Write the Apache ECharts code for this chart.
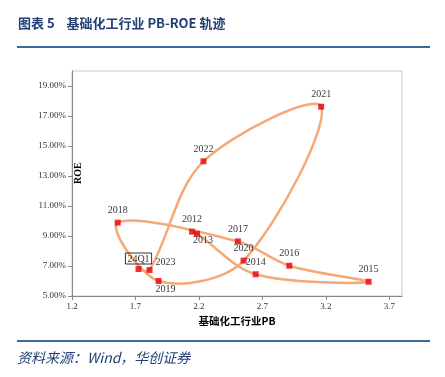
<!DOCTYPE html>
<html>
<head>
<meta charset="utf-8">
<script src="https://cdn.jsdelivr.net/npm/echarts@6/dist/echarts.min.js"></script>
<style>
  html, body { margin: 0; padding: 0; background: #fff; }
  #main { width: 445px; height: 377px; }
</style>
</head>
<body>
<div id="main"></div>
<script>
// 数据：年份、PB、ROE(%)
var years = ['2012', '2013', '2014', '2015', '2016', '2017', '2018', '2019', '2020', '2021', '2022', '2023', '24Q1'];
var pb = [2.146, 2.185, 2.647, 3.537, 2.912, 2.507, 1.56, 1.882, 2.552, 3.163, 2.236, 1.811, 1.724];
var roe = [9.29, 9.15, 6.45, 5.95, 7.02, 8.64, 9.89, 6.0, 7.36, 17.62, 13.98, 6.73, 6.80];
var xTicks = [1.2, 1.7, 2.2, 2.7, 3.2, 3.7];
var yTicks = [5, 7, 9, 11, 13, 15, 17, 19];

var serif = '"Liberation Serif", "Times New Roman", serif';
var SMOOTH = 1 / 3; // 类似Excel平滑线

// 标签位置
var labelPos = {
    '2013': { position: 'bottom', offset: [6, -5] },
    '2019': { position: 'bottom', offset: [7, -4] },
    '2023': { position: 'top', offset: [16, 4] },
    '24Q1': {
        position: 'top', offset: [0, 2],
        borderColor: '#000', borderWidth: 1, padding: [1, 2, 0, 2]
    }
};

var points = [];
var pairs = [];
for (var i = 0; i < years.length; i++) {
    var item = { value: [pb[i], roe[i]], name: years[i] };
    if (labelPos[years[i]]) {
        item.label = labelPos[years[i]];
    }
    points.push(item);
    pairs.push([pb[i], roe[i]]);
}

function dist(a, b) {
    return Math.sqrt((a[0] - b[0]) * (a[0] - b[0]) + (a[1] - b[1]) * (a[1] - b[1]));
}

// 控制点：切线方向为前后点连线，长度按相邻线段比例分配
function ctrl(prev, cur, next, toNext) {
    var d0 = dist(prev, cur), d1 = dist(cur, next);
    if (d0 + d1 === 0) return [cur[0], cur[1]];
    var r = toNext ? d1 / (d0 + d1) : -d0 / (d0 + d1);
    return [cur[0] + (next[0] - prev[0]) * SMOOTH * r, cur[1] + (next[1] - prev[1]) * SMOOTH * r];
}

function renderCurve(params, api) {
    var i = params.dataIndex;
    var n = pairs.length;
    if (i >= n - 1) return null;
    var p0 = api.coord(pairs[Math.max(i - 1, 0)]);
    var p1 = api.coord(pairs[i]);
    var p2 = api.coord(pairs[i + 1]);
    var p3 = api.coord(pairs[Math.min(i + 2, n - 1)]);
    var c1 = ctrl(p0, p1, p2, true);
    var c2 = ctrl(p1, p2, p3, false);
    return {
        type: 'bezierCurve',
        shape: {
            x1: p1[0], y1: p1[1],
            cpx1: c1[0], cpy1: c1[1],
            cpx2: c2[0], cpy2: c2[1],
            x2: p2[0], y2: p2[1]
        },
        style: { stroke: '#F4AA78', lineWidth: 2.5, fill: null }
    };
}

var myChart = echarts.init(document.getElementById('main'));
var option = {
    animation: false,
    grid: {
        left: 72,
        top: 71,
        right: 43,
        bottom: 81,
        show: true,
        borderColor: '#c8c8c8',
        borderWidth: 1
    },
    xAxis: {
        type: 'value',
        min: 1.2,
        max: 3.8,
        name: '基础化工行业PB',
        nameLocation: 'middle',
        nameGap: 19,
        nameTextStyle: {
            fontFamily: '"Noto Sans CJK SC", ' + serif,
            fontWeight: 'bold',
            fontSize: 10.5,
            color: '#000'
        },
        axisLine: { lineStyle: { color: '#888' } },
        axisTick: { show: true, length: 4, customValues: xTicks, lineStyle: { color: '#888' } },
        axisLabel: {
            customValues: xTicks,
            fontFamily: serif,
            fontSize: 9,
            color: '#333',
            margin: 6,
            formatter: function(v) { return v.toFixed(1); }
        },
        splitLine: { show: false }
    },
    yAxis: {
        type: 'value',
        min: 5,
        max: 20,
        axisLine: { show: true, lineStyle: { color: '#888' } },
        axisTick: { show: true, length: 4, customValues: yTicks, lineStyle: { color: '#888' } },
        axisLabel: {
            customValues: yTicks,
            fontFamily: serif,
            fontSize: 9,
            color: '#333',
            margin: 6,
            formatter: function(v) { return v.toFixed(2) + '%'; }
        },
        splitLine: { show: false }
    },
    graphic: [
        {
            type: 'text', left: 18, top: 17,
            style: {
                text: '图表 5    基础化工行业 PB-ROE 轨迹',
                font: 'bold 13px "Noto Sans CJK SC", "Liberation Serif", serif',
                fill: '#213F73'
            }
        },
        {
            type: 'rect', shape: { x: 17, y: 46, width: 413, height: 2 },
            style: { fill: '#3A6A9E' }
        },
        {
            type: 'rect', shape: { x: 17, y: 340, width: 413, height: 2 },
            style: { fill: '#3A6A9E' }
        },
        {
            type: 'text', left: 17, top: 351,
            style: {
                text: '资料来源：Wind，华创证券',
                font: 'italic 14px "Noto Sans CJK SC", "Liberation Serif", serif',
                fill: '#213F73'
            }
        },
        {
            type: 'text', x: 73, y: 184, rotation: Math.PI / 2,
            style: {
                text: 'ROE',
                font: 'bold 10px "Liberation Serif", serif',
                fill: '#000'
            }
        }
    ],
    series: [
        {
            type: 'custom',
            renderItem: renderCurve,
            data: pairs,
            silent: true,
            z: 2
        },
        {
            type: 'scatter',
            data: points,
            symbol: 'rect',
            symbolSize: 6,
            itemStyle: { color: '#E8000B' },
            label: {
                show: true,
                position: 'top',
                distance: 4,
                fontFamily: serif,
                fontSize: 10,
                color: '#000',
                formatter: function(p) { return p.name; }
            },
            z: 3
        }
    ]
};
myChart.setOption(option);
</script>
</body>
</html>
